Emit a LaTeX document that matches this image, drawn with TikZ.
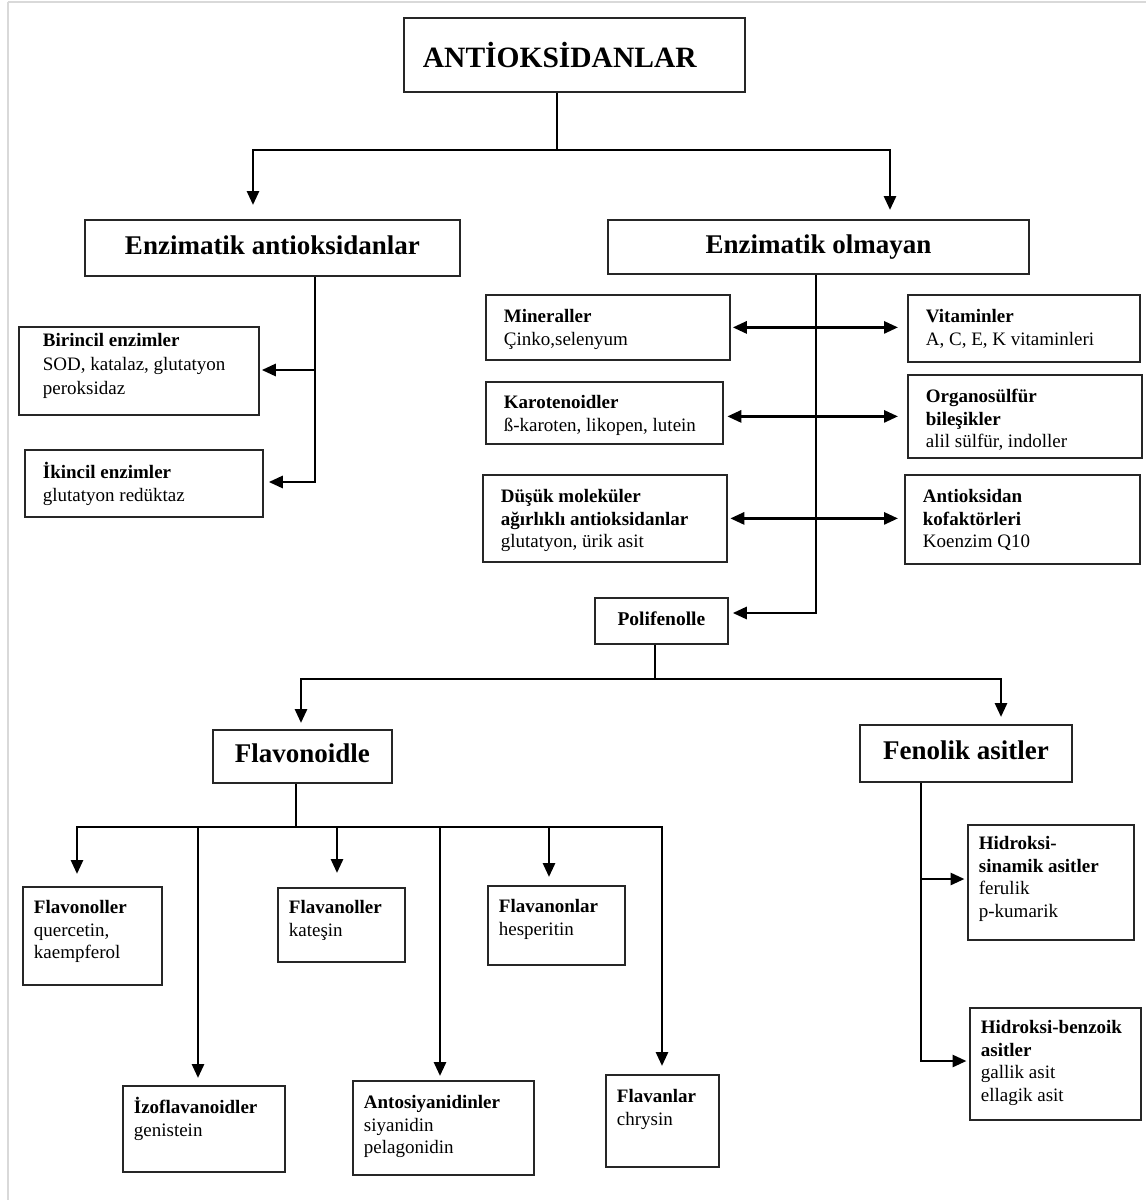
\documentclass[tikz,border=0pt]{standalone}
\usepackage{fontspec}
\setmainfont{Liberation Serif}
\usetikzlibrary{arrows.meta}
\newcommand{\cellc}[4]{\parbox[t][#2pt][t]{#1pt}{\raggedright\vspace*{#3pt}\rule{0pt}{17pt}#4}}
\tikzset{
  bx/.style={draw=black!85, line width=1.8pt, anchor=north west, inner ysep=0pt,
    font=\fontsize{19}{22.5}\selectfont},
  hd/.style={draw=black!85, line width=1.8pt, anchor=north west, inner sep=0pt,
    font=\bfseries\fontsize{27}{30}\selectfont, text height=18pt, text depth=5pt},
  ln/.style={line width=2.8pt, black},
  arr/.style={ln, -{Triangle[length=14pt,width=12pt]}},
  darr/.style={ln, {Triangle[length=14pt,width=12pt]}-{Triangle[length=14pt,width=12pt]}},
  frame/.style={black!15, line width=2pt}
}
\begin{document}
\begin{tikzpicture}[x=1pt,y=-1pt]
\useasboundingbox (0,0) rectangle (1146,1200);
\draw[frame] (7.5,1.5) -- (1146,1.5);
\draw[frame] (7.5,1.5) -- (7.5,1200);

% header boxes
\node[hd, minimum width=341pt, minimum height=74pt, font=\bfseries\fontsize{29.5}{32}\selectfont, text height=25pt, text depth=0pt] (title) at (403,17) {\makebox[341pt][l]{\hspace{19pt}ANTİOKSİDANLAR}};
\node[hd, minimum width=375pt, minimum height=56pt] (enzA) at (84,219) {Enzimatik antioksidanlar};
\node[hd, minimum width=421pt, minimum height=54pt] (enzB) at (607,219) {Enzimatik olmayan};
\node[hd, minimum width=133pt, minimum height=46pt, font=\bfseries\fontsize{19.5}{22}\selectfont, text height=13pt, text depth=4pt] (poli) at (594,597) {Polifenolle};
\node[hd, minimum width=179pt, minimum height=53pt] (flavo) at (212,729) {Flavonoidle};
\node[hd, minimum width=212pt, minimum height=57pt] (fenol) at (859,724) {Fenolik asitler};

% enzymatic
\node[bx, inner xsep=24pt] (bir) at (18,326) {\cellc{192}{88}{2.5}{\fontsize{19}{24}\selectfont\textbf{Birincil enzimler}\\SOD, katalaz, glutatyon\\peroksidaz}};
\node[bx, inner xsep=18pt] (ik) at (24,449) {\cellc{202}{67}{12}{\textbf{İkincil enzimler}\\glutatyon redüktaz}};

% non-enzymatic
\node[bx, inner xsep=18pt] (min) at (485,294) {\cellc{208}{65}{11}{\textbf{Mineraller}\\Çinko,selenyum}};
\node[bx, inner xsep=18pt] (kar) at (485,381) {\cellc{201}{62}{10}{\textbf{Karotenoidler}\\ß-karoten, likopen, lutein}};
\node[bx, inner xsep=18pt] (dus) at (482,474) {\cellc{208}{87}{11}{\textbf{Düşük moleküler}\\\textbf{ağırlıklı antioksidanlar}\\glutatyon, ürik asit}};
\node[bx, inner xsep=18pt] (vit) at (907,294) {\cellc{196}{67}{11}{\textbf{Vitaminler}\\A, C, E, K vitaminleri}};
\node[bx, inner xsep=18pt] (org) at (907,374) {\cellc{198}{83}{11}{\textbf{Organosülfür}\\\textbf{bileşikler}\\alil sülfür, indoller}};
\node[bx, inner xsep=18pt] (ant) at (904,474) {\cellc{199}{89}{11}{\textbf{Antioksidan}\\\textbf{kofaktörleri}\\Koenzim Q10}};

% flavonoids
\node[bx, inner xsep=11pt] (flvnl) at (22,886) {\cellc{117}{98}{10}{\textbf{Flavonoller}\\quercetin,\\kaempferol}};
\node[bx, inner xsep=11pt] (flvnol) at (277,887) {\cellc{105}{74}{9}{\textbf{Flavanoller}\\kateşin}};
\node[bx, inner xsep=11pt] (flvnon) at (487,885) {\cellc{115}{79}{10}{\textbf{Flavanonlar}\\hesperitin}};
\node[bx, inner xsep=11pt] (izo) at (122,1085) {\cellc{140}{86}{11}{\textbf{İzoflavanoidler}\\genistein}};
\node[bx, inner xsep=11pt] (anto) at (352,1080) {\cellc{159}{94}{11}{\textbf{Antosiyanidinler}\\siyanidin\\pelagonidin}};
\node[bx, inner xsep=11pt] (flvan) at (605,1074) {\cellc{91}{92}{11}{\textbf{Flavanlar}\\chrysin}};

% phenolic acids
\node[bx, inner xsep=11pt] (hs) at (967,824) {\cellc{144}{115}{8}{\textbf{Hidroksi-}\\\textbf{sinamik asitler}\\ferulik\\p-kumarik}};
\node[bx, inner xsep=11pt] (hb) at (969,1007) {\cellc{149}{112}{9}{\textbf{Hidroksi-benzoik}\\\textbf{asitler}\\gallik asit\\ellagik asit}};

% connectors: title
\coordinate (tj) at (557,150);
\coordinate (tl) at (253,150);
\coordinate (tr) at (890,150);
\draw[ln] (tj |- title.south) -- (tj);
\draw[arr, shorten >=14pt] (tj) -- (tl) -- (tl |- enzA.north);
\draw[arr, shorten >=9pt] (tj) -- (tr) -- (tr |- enzB.north);

% enzymatic branch
\coordinate (ea) at (315,370);
\coordinate (eb) at (315,482);
\draw[arr, shorten >=5pt] (eb |- enzA.south) -- (eb) -- (eb -| ik.east);
\draw[arr, shorten >=2pt] (ea) -- (ea -| bir.east);

% non-enzymatic branch
\coordinate (pj) at (816,613);
\draw[arr, shorten >=4pt] (pj |- enzB.south) -- (pj) -- (pj -| poli.east);
\draw[darr, shorten <=2pt, shorten >=9pt] (min.east) -- (min.east -| vit.west);
\draw[darr, shorten <=3.5pt, shorten >=9pt] (kar.east |- org.west) -- (org.west);
\draw[darr, shorten <=2.5pt, shorten >=6pt] (dus.east) -- (dus.east -| ant.west);

% polyphenols
\coordinate (pf) at (655,679);
\coordinate (pl) at (301,679);
\coordinate (pr) at (1001,679);
\draw[ln] (pf |- poli.south) -- (pf);
\draw[arr, shorten >=6pt] (pf) -- (pl) -- (pl |- flavo.north);
\draw[arr, shorten >=7pt] (pf) -- (pr) -- (pr |- fenol.north);

% flavonoids
\coordinate (fj) at (296,827);
\coordinate (f1) at (77,827);
\coordinate (f2) at (198,827);
\coordinate (f3) at (337,827);
\coordinate (f4) at (440,827);
\coordinate (f5) at (549,827);
\coordinate (f6) at (662,827);
\draw[ln] (fj |- flavo.south) -- (fj);
\draw[arr, shorten >=12pt] (fj) -- (f1) -- (f1 |- flvnl.north);
\draw[arr, shorten >=8pt] (fj) -- (f6) -- (f6 |- flvan.north);
\draw[arr, shorten >=7pt] (f2) -- (f2 |- izo.north);
\draw[arr, shorten >=14pt] (f3) -- (f3 |- flvnol.north);
\draw[arr, shorten >=4pt] (f4) -- (f4 |- anto.north);
\draw[arr, shorten >=8pt] (f5) -- (f5 |- flvnon.north);

% phenolic acids
\coordinate (g1) at (921,879);
\coordinate (g2) at (921,1061);
\draw[arr, shorten >=2.5pt] (g2 |- fenol.south) -- (g2) -- (g2 -| hb.west);
\draw[arr, shorten >=2.5pt] (g1) -- (g1 -| hs.west);
\end{tikzpicture}
\end{document}
